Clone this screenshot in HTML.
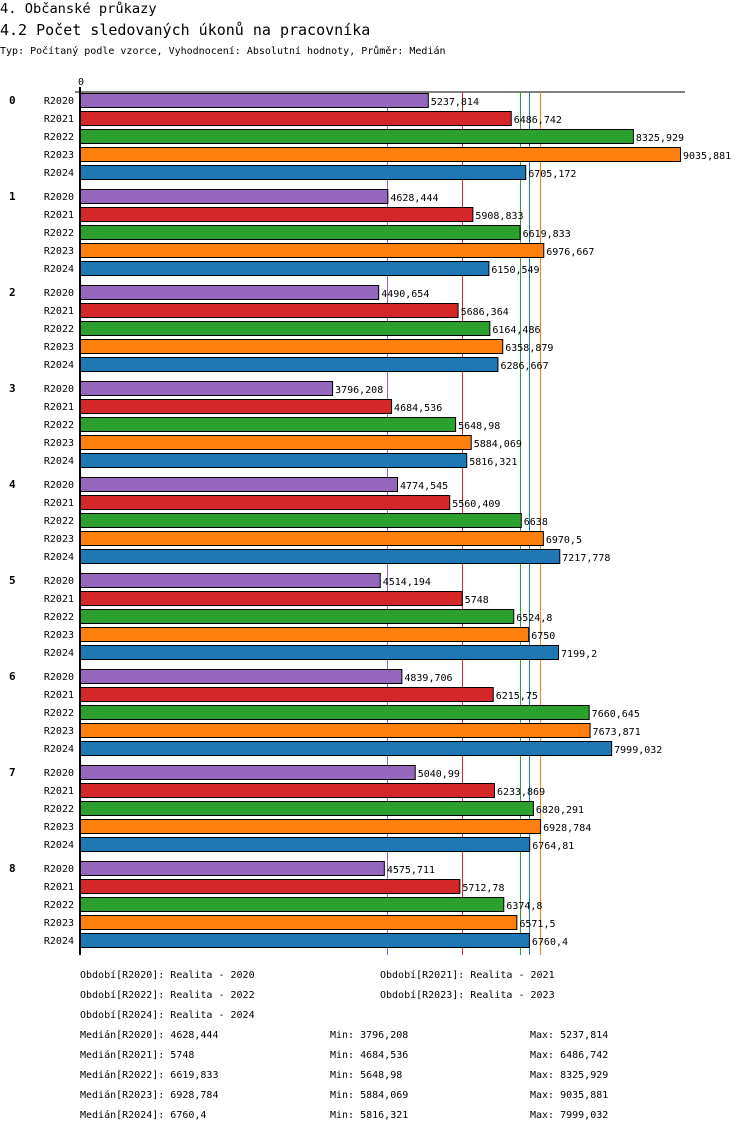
<!DOCTYPE html>
<html><head><meta charset="utf-8"><style>
body{margin:0;background:#fff;width:750px;height:1136px;overflow:hidden}
text{font-family:"DejaVu Sans Mono","Liberation Mono",monospace;fill:#000}
</style></head><body>
<svg id="chart" width="750" height="1136" xmlns="http://www.w3.org/2000/svg">
<text x="0" y="13" font-size="13.7">4. Občanské průkazy</text>
<text x="0" y="35" font-size="15">4.2 Počet sledovaných úkonů na pracovníka</text>
<text x="0" y="54" font-size="10">Typ: Počítaný podle vzorce, Vyhodnocení: Absolutní hodnoty, Průměr: Medián</text>
<g id="grid"></g><g id="bars"></g><g id="legend"></g>
</svg>
<script>
const categories=["0","1","2","3","4","5","6","7","8"];
const series=["R2020","R2021","R2022","R2023","R2024"];
const colors=["#9467bd","#d62728","#2ca02c","#ff7f0e","#1f77b4"];
const r2020=[5237.814,4628.444,4490.654,3796.208,4774.545,4514.194,4839.706,5040.99,4575.711];
const r2021=[6486.742,5908.833,5686.364,4684.536,5560.409,5748,6215.75,6233.869,5712.78];
const r2022=[8325.929,6619.833,6164.486,5648.98,6638,6524.8,7660.645,6820.291,6374.8];
const r2023=[9035.881,6976.667,6358.879,5884.069,6970.5,6750,7673.871,6928.784,6571.5];
const r2024=[6705.172,6150.549,6286.667,5816.321,7217.778,7199.2,7999.032,6764.81,6760.4];
const values=[r2020,r2021,r2022,r2023,r2024];
const medians=[4628.444,5748,6619.833,6928.784,6760.4];
const mins=[3796.208,4684.536,5648.98,5884.069,5816.321];
const maxs=[5237.814,6486.742,8325.929,9035.881,7999.032];
const periodLabels=["Realita - 2020","Realita - 2021","Realita - 2022","Realita - 2023","Realita - 2024"];
const NS="http://www.w3.org/2000/svg";
const x0=80,scale=600/9035.881;
const xs=v=>x0+v*scale;
const fmt=v=>String(v).replace('.',',');
function mk(tag,attrs,parent,txt){const e=document.createElementNS(NS,tag);for(const k in attrs)e.setAttribute(k,attrs[k]);if(txt!==undefined)e.textContent=txt;parent.appendChild(e);return e;}
const grid=document.getElementById('grid'),bars=document.getElementById('bars'),legend=document.getElementById('legend');
const yTop=92,yBot=955;
let e;
e=mk('line',{x1:75,y1:yTop,x2:685,y2:yTop,stroke:'#000','stroke-width':1},grid);


e=mk('text',{x:x0-2,y:yTop-7,'font-size':10},grid,'0');


medians.forEach((m,i)=>{
 const ln=mk('line',{x1:Math.round(xs(m))+0.5,y1:yTop,x2:Math.round(xs(m))+0.5,y2:yBot,stroke:colors[i],'stroke-width':1},grid);
 
 
});
categories.forEach((c,g)=>{
 const gy=yTop+g*96;
 const gl=mk('text',{x:9,y:gy+12,'font-size':11,'font-weight':'bold'},bars,c);
 
 
 series.forEach((s,i)=>{
  const v=values[i][g],top=gy+1+i*18;
  const sl=mk('text',{x:74,y:top+11,'font-size':10,'text-anchor':'end'},bars,s);
  
  
  const r=mk('rect',{x:x0+0.5,y:top+0.5,width:xs(v)-x0,height:14,fill:colors[i],stroke:'#000','stroke-width':1},bars);
  
  
  const vl=mk('text',{x:xs(v)+3,y:top+12,'font-size':10},bars,fmt(v));
  
  
 });
});
e=mk('line',{x1:x0,y1:yTop-5,x2:x0,y2:yBot,stroke:'#000','stroke-width':2},grid);


const pos=[[80,978],[380,978],[80,998],[380,998],[80,1018]];
series.forEach((s,i)=>{
 const t=mk('text',{x:pos[i][0],y:pos[i][1],'font-size':10},legend,'Období['+s+']: '+periodLabels[i]);
 
 
 const y=1038+i*20;
 const a=mk('text',{x:80,y:y,'font-size':10},legend,'Medián['+s+']: '+fmt(medians[i]));
 
 
 const b=mk('text',{x:330,y:y,'font-size':10},legend,'Min: '+fmt(mins[i]));
 
 
 const d=mk('text',{x:530,y:y,'font-size':10},legend,'Max: '+fmt(maxs[i]));
 
 
});
</script>
</body></html>
